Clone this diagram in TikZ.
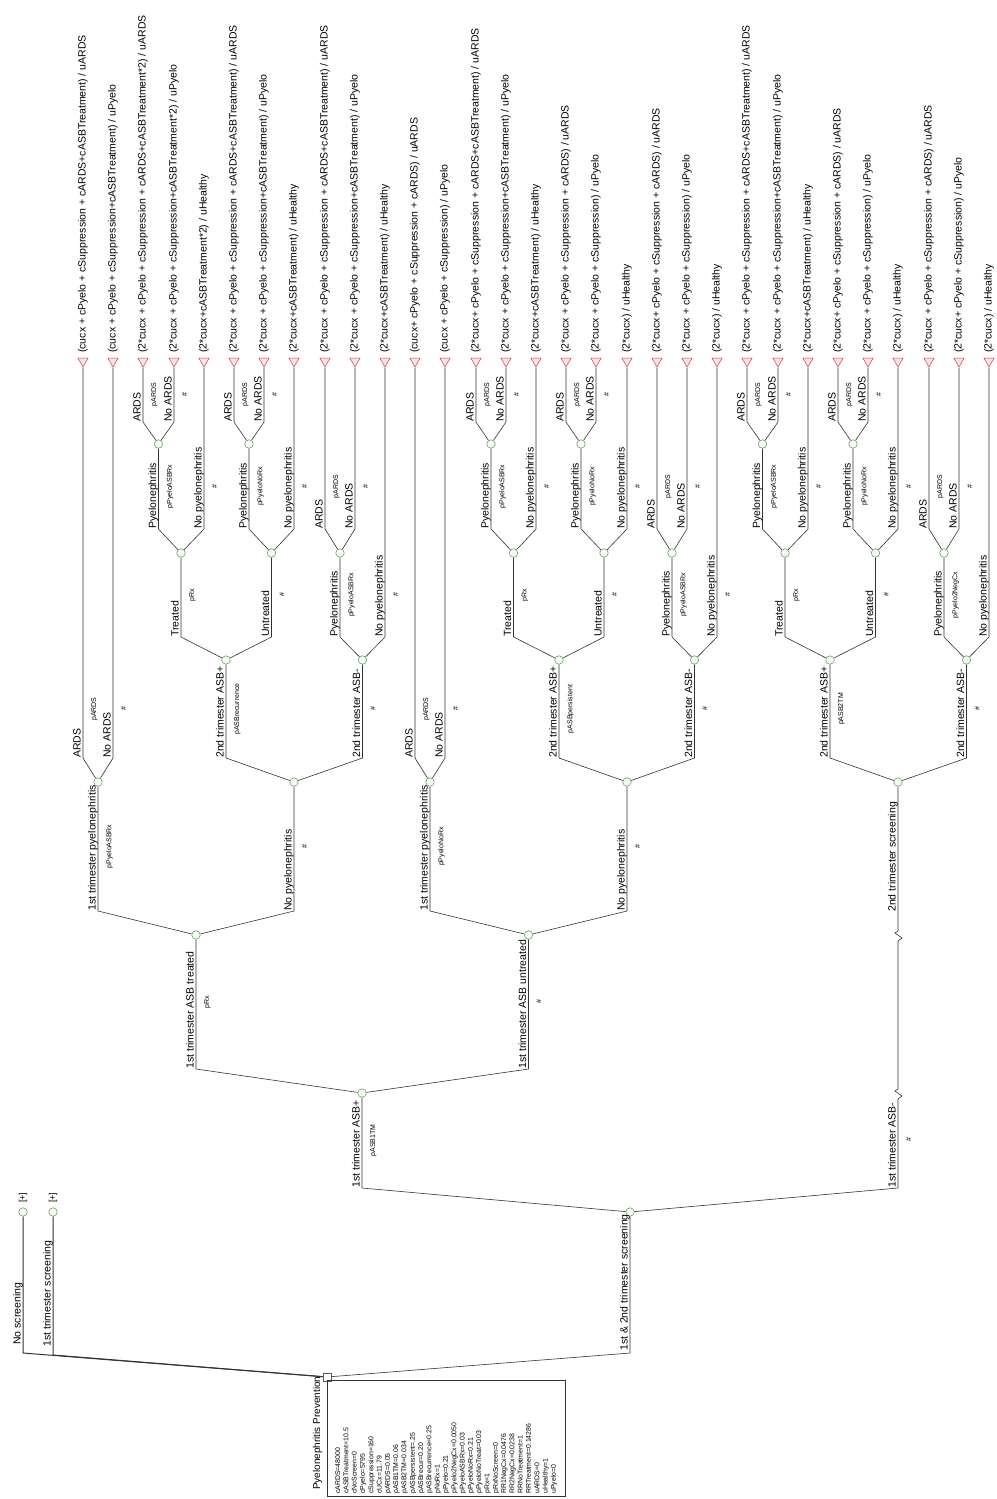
\documentclass[tikz,border=0pt]{standalone}
\usepackage{fontspec}
\setmainfont{Liberation Sans}
\usetikzlibrary{shapes.geometric}
\definecolor{lineGray}{HTML}{333333}
\definecolor{chanceGreen}{HTML}{4E9A4E}
\definecolor{chanceFill}{HTML}{F4FBF0}
\definecolor{termRed}{HTML}{C04848}
\definecolor{termFill}{HTML}{FBE3E3}
\definecolor{decBlue}{HTML}{3A5F9A}

% one branch: parent, child, x, base y, natural top y, name, probability
\newcommand{\tbranch}[7]{%
  \draw[edge] (#1) -- (#3,#4) -- (#2);
  \node[bname] (#2n) at (#3-2.5,#4) {#6};
  \node[bprob] (#2p) at (#3+8,{(#4+#5)/2}) {#7};
}

\begin{document}
\begin{tikzpicture}[x=1pt, y=-1pt,
  edge/.style={draw=lineGray, line width=0.6pt},
  chance/.style={circle, draw=chanceGreen, fill=chanceFill, line width=0.5pt, inner sep=0pt, minimum size=8.5pt},
  term/.style={regular polygon, regular polygon sides=3, shape border rotate=180, draw=termRed, fill=termFill, line width=0.5pt, inner sep=0pt, minimum size=12pt},
  dec/.style={rectangle, draw=decBlue, fill=white, line width=0.6pt, inner sep=0pt, minimum size=8pt},
  bname/.style={rotate=90, anchor=base west, inner sep=0pt, font=\fontsize{10.5}{12}\selectfont},
  bprob/.style={rotate=90, anchor=north, inner sep=0pt, font=\fontsize{7}{8}\selectfont},
  tlabel/.style={rotate=90, anchor=west, inner sep=0pt, font=\fontsize{10.5}{12}\selectfont}]
  \useasboundingbox (0,0) rectangle (996,1499);

  % Root and first choices
  \node[dec] (root) at (327,1377) {};
  \node[chance] (ns) at (23,1212) {};
  \node[chance] (fs) at (53,1212) {};
  \node[chance] (s12) at (630,1212) {};
  \node[rotate=90, anchor=west, inner sep=0pt, font=\fontsize{9}{10}\selectfont] (nsplus) at (23,1203) {[+]};
  \node[rotate=90, anchor=west, inner sep=0pt, font=\fontsize{9}{10}\selectfont] (fsplus) at (53,1203) {[+]};

  % Chance nodes
  \node[chance] (asbp) at (362,1093) {};
  \node[chance] (a) at (196,935) {};
  \node[chance] (b) at (528.5,935) {};
  \node[chance] (apy) at (98,782) {};
  \node[chance] (anp) at (294,782) {};
  \node[chance] (bpy) at (430,782) {};
  \node[chance] (bnp) at (627,782) {};
  \node[chance] (c) at (898,782) {};
  \node[chance] (aap) at (226,660) {};
  \node[chance] (aan) at (362.5,660) {};
  \node[chance] (bap) at (559,660) {};
  \node[chance] (ban) at (694.5,660) {};
  \node[chance] (cap) at (830,660) {};
  \node[chance] (can) at (966.5,660) {};
  \node[chance] (atr) at (181,553) {};
  \node[chance] (aun) at (271.5,553) {};
  \node[chance] (aanpy) at (340,553) {};
  \node[chance] (btr) at (513.5,553) {};
  \node[chance] (bun) at (604,553) {};
  \node[chance] (banpy) at (672,553) {};
  \node[chance] (ctr) at (785,553) {};
  \node[chance] (cun) at (875.5,553) {};
  \node[chance] (canpy) at (944,553) {};
  \node[chance] (atrpy) at (158.5,444) {};
  \node[chance] (aunpy) at (249,444) {};
  \node[chance] (btrpy) at (491,444) {};
  \node[chance] (bunpy) at (581,444) {};
  \node[chance] (ctrpy) at (762.5,444) {};
  \node[chance] (cunpy) at (853,444) {};

  % Terminal nodes and payoffs
  \foreach \x/\txt [count=\i] in {
    83/{(cucx + cPyelo + cSuppression + cARDS+cASBTreatment) / uARDS},
    113/{(cucx + cPyelo + cSuppression+cASBTreatment) / uPyelo},
    143/{(2*cucx + cPyelo + cSuppression + cARDS+cASBTreatment*2) / uARDS},
    174/{(2*cucx + cPyelo + cSuppression+cASBTreatment*2) / uPyelo},
    204/{(2*cucx+cASBTreatment*2) / uHealthy},
    234/{(2*cucx + cPyelo + cSuppression + cARDS+cASBTreatment) / uARDS},
    264/{(2*cucx + cPyelo + cSuppression+cASBTreatment) / uPyelo},
    294/{(2*cucx+cASBTreatment) / uHealthy},
    325/{(2*cucx + cPyelo + cSuppression + cARDS+cASBTreatment) / uARDS},
    355/{(2*cucx + cPyelo + cSuppression+cASBTreatment) / uPyelo},
    385/{(2*cucx+cASBTreatment) / uHealthy},
    415/{(cucx+ cPyelo + cSuppression + cARDS) / uARDS},
    445/{(cucx + cPyelo + cSuppression) / uPyelo},
    476/{(2*cucx+ cPyelo + cSuppression + cARDS+cASBTreatment) / uARDS},
    506/{(2*cucx + cPyelo + cSuppression+cASBTreatment) / uPyelo},
    536/{(2*cucx+cASBTreatment) / uHealthy},
    566/{(2*cucx + cPyelo + cSuppression + cARDS) / uARDS},
    596/{(2*cucx + cPyelo + cSuppression) / uPyelo},
    627/{(2*cucx) / uHealthy},
    657/{(2*cucx+ cPyelo + cSuppression + cARDS) / uARDS},
    687/{(2*cucx + cPyelo + cSuppression) / uPyelo},
    717/{(2*cucx) / uHealthy},
    747/{(2*cucx + cPyelo + cSuppression + cARDS+cASBTreatment) / uARDS},
    778/{(2*cucx + cPyelo + cSuppression+cASBTreatment) / uPyelo},
    808/{(2*cucx+cASBTreatment) / uHealthy},
    838/{(2*cucx+ cPyelo + cSuppression + cARDS) / uARDS},
    868/{(2*cucx + cPyelo + cSuppression) / uPyelo},
    898/{(2*cucx) / uHealthy},
    929/{(2*cucx + cPyelo + cSuppression + cARDS) / uARDS},
    959/{(2*cucx+ cPyelo + cSuppression) / uPyelo},
    989/{(2*cucx) / uHealthy}}
  {
    \node[term] (t\i) at (\x,361) {};
    \node[tlabel] (tl\i) at (\x,353) {\txt};
  }

  % Decision branches
  \draw[edge, line width=1pt] (root) -- (23,1353) -- (ns);
  \draw[edge, line width=1pt] (root) -- (53,1355) -- (fs);
  \draw[edge] (root) -- (630,1353) -- (s12);
  \node[bname] (nsn) at (20.5,1345) {No screening};
  \node[bname] (fsn) at (50.5,1347) {1st trimester screening};
  \node[bname] (s12n) at (627.5,1351) {1st \& 2nd trimester screening};

  % 1st trimester ASB- runs on to 2nd trimester screening
  \draw[edge] (s12) -- (898,1188) -- (898,1099) -- ++(4,-3) -- ++(-7,-5) -- ++(3,-2)
    -- (898,941) -- ++(4,-3) -- ++(-7,-5) -- ++(3,-2) -- (c);
  \node[bname] (cn) at (895.5,1188) {1st trimester ASB-};
  \node[bprob] (cp) at (906,1140) {\#};
  \node[bname] (c2n) at (895.5,912) {2nd trimester screening};

  % Chance branches
  \tbranch{s12}{asbp}{362}{1188}{1093}{1st trimester ASB+}{pASB1TM}
  \tbranch{asbp}{a}{196}{1069}{935}{1st trimester ASB treated}{pRx}
  \tbranch{asbp}{b}{528.5}{1069}{935}{1st trimester ASB untreated}{\#}
  \tbranch{a}{apy}{98}{911}{782}{1st trimester pyelonephritis}{pPyeloASBRx}
  \tbranch{a}{anp}{294}{911}{782}{No pyelonephritis}{\#}
  \tbranch{b}{bpy}{430}{911}{782}{1st trimester pyelonephritis}{pPyeloNoRx}
  \tbranch{b}{bnp}{627}{911}{782}{No pyelonephritis}{\#}

  \tbranch{apy}{t1}{83}{758}{660}{ARDS}{pARDS}
  \tbranch{apy}{t2}{113}{758}{660}{No ARDS}{\#}
  \tbranch{anp}{aap}{226}{758}{660}{2nd trimester ASB+}{pASBrecurrence}
  \tbranch{anp}{aan}{362.5}{758}{660}{2nd trimester ASB-}{\#}
  \tbranch{bpy}{t12}{415}{758}{660}{ARDS}{pARDS}
  \tbranch{bpy}{t13}{445}{758}{660}{No ARDS}{\#}
  \tbranch{bnp}{bap}{559}{758}{660}{2nd trimester ASB+}{pASBpersistent}
  \tbranch{bnp}{ban}{694.5}{758}{660}{2nd trimester ASB-}{\#}
  \tbranch{c}{cap}{830}{758}{660}{2nd trimester ASB+}{pASB2TM}
  \tbranch{c}{can}{966.5}{758}{660}{2nd trimester ASB-}{\#}

  \tbranch{aap}{atr}{181}{637}{553}{Treated}{pRx}
  \tbranch{aap}{aun}{271.5}{637}{553}{Untreated}{\#}
  \tbranch{aan}{aanpy}{340}{637}{553}{Pyelonephritis}{pPyeloASBRx}
  \tbranch{aan}{t11}{385}{637}{553}{No pyelonephritis}{\#}
  \tbranch{bap}{btr}{513.5}{637}{553}{Treated}{pRx}
  \tbranch{bap}{bun}{604}{637}{553}{Untreated}{\#}
  \tbranch{ban}{banpy}{672}{637}{553}{Pyelonephritis}{pPyeloASBRx}
  \tbranch{ban}{t22}{717}{637}{553}{No pyelonephritis}{\#}
  \tbranch{cap}{ctr}{785}{637}{553}{Treated}{pRx}
  \tbranch{cap}{cun}{875.5}{637}{553}{Untreated}{\#}
  \tbranch{can}{canpy}{944}{637}{553}{Pyelonephritis}{pPyelo2NegCx}
  \tbranch{can}{t31}{989}{637}{553}{No pyelonephritis}{\#}

  \tbranch{atr}{atrpy}{158.5}{529}{444}{Pyelonephritis}{pPyeloASBRx}
  \tbranch{atr}{t5}{204}{529}{444}{No pyelonephritis}{\#}
  \tbranch{aun}{aunpy}{249}{529}{444}{Pyelonephritis}{pPyeloNoRx}
  \tbranch{aun}{t8}{294}{529}{444}{No pyelonephritis}{\#}
  \tbranch{aanpy}{t9}{325}{529}{444}{ARDS}{pARDS}
  \tbranch{aanpy}{t10}{355}{529}{444}{No ARDS}{\#}
  \tbranch{btr}{btrpy}{491}{529}{444}{Pyelonephritis}{pPyeloASBRx}
  \tbranch{btr}{t16}{536}{529}{444}{No pyelonephritis}{\#}
  \tbranch{bun}{bunpy}{581}{529}{444}{Pyelonephritis}{pPyeloNoRx}
  \tbranch{bun}{t19}{627}{529}{444}{No pyelonephritis}{\#}
  \tbranch{banpy}{t20}{657}{529}{444}{ARDS}{pARDS}
  \tbranch{banpy}{t21}{687}{529}{444}{No ARDS}{\#}
  \tbranch{ctr}{ctrpy}{762.5}{529}{444}{Pyelonephritis}{pPyeloASBRx}
  \tbranch{ctr}{t25}{808}{529}{444}{No pyelonephritis}{\#}
  \tbranch{cun}{cunpy}{853}{529}{444}{Pyelonephritis}{pPyeloNoRx}
  \tbranch{cun}{t28}{898}{529}{444}{No pyelonephritis}{\#}
  \tbranch{canpy}{t29}{929}{529}{444}{ARDS}{pARDS}
  \tbranch{canpy}{t30}{959}{529}{444}{No ARDS}{\#}

  \tbranch{atrpy}{t3}{143}{422}{367}{ARDS}{pARDS}
  \tbranch{atrpy}{t4}{174}{422}{367}{No ARDS}{\#}
  \tbranch{aunpy}{t6}{234}{422}{367}{ARDS}{pARDS}
  \tbranch{aunpy}{t7}{264}{422}{367}{No ARDS}{\#}
  \tbranch{btrpy}{t14}{476}{422}{367}{ARDS}{pARDS}
  \tbranch{btrpy}{t15}{506}{422}{367}{No ARDS}{\#}
  \tbranch{bunpy}{t17}{566}{422}{367}{ARDS}{pARDS}
  \tbranch{bunpy}{t18}{596}{422}{367}{No ARDS}{\#}
  \tbranch{ctrpy}{t23}{747}{422}{367}{ARDS}{pARDS}
  \tbranch{ctrpy}{t24}{778}{422}{367}{No ARDS}{\#}
  \tbranch{cunpy}{t26}{838}{422}{367}{ARDS}{pARDS}
  \tbranch{cunpy}{t27}{868}{422}{367}{No ARDS}{\#}

  % Title and variable list
  \node[rotate=90, anchor=base west, inner sep=0pt, font=\fontsize{10}{12}\selectfont] (title) at (320,1490) {Pyelonephritis Prevention};
  \node[draw=lineGray, line width=0.6pt, rotate=90, anchor=north west, text width=110pt, minimum height=238pt, inner sep=3pt, align=left, font=\fontsize{6.9}{8.3}\selectfont] (vars) at (327,1497) {\setlength{\baselineskip}{8.3pt}cARDS=48000\\cASBTreatment=10.5\\cNoScreen=0\\cPyelo=5795\\cSuppression=160\\cUCx=11.79\\pARDS=0.05\\pASB1TM=0.06\\pASB2TM=0.034\\pASBpersistent=.25\\pASBrecur=0.20\\pASBrecurrence=0.25\\pNoRx=1\\pPyelo=0.21\\pPyelo2NegCx=0.0050\\pPyeloASBRx=0.03\\pPyeloNoRx=0.21\\pPyeloNoTreat=0.03\\pRx=1\\pRxNoScreen=0\\RR1NegCx=0.0476\\RR2NegCx=0.0238\\RRNoTreatment=1\\RRTreatment=0.14286\\uARDS=0\\uHealthy=1\\uPyelo=0\par};
\end{tikzpicture}
\end{document}
